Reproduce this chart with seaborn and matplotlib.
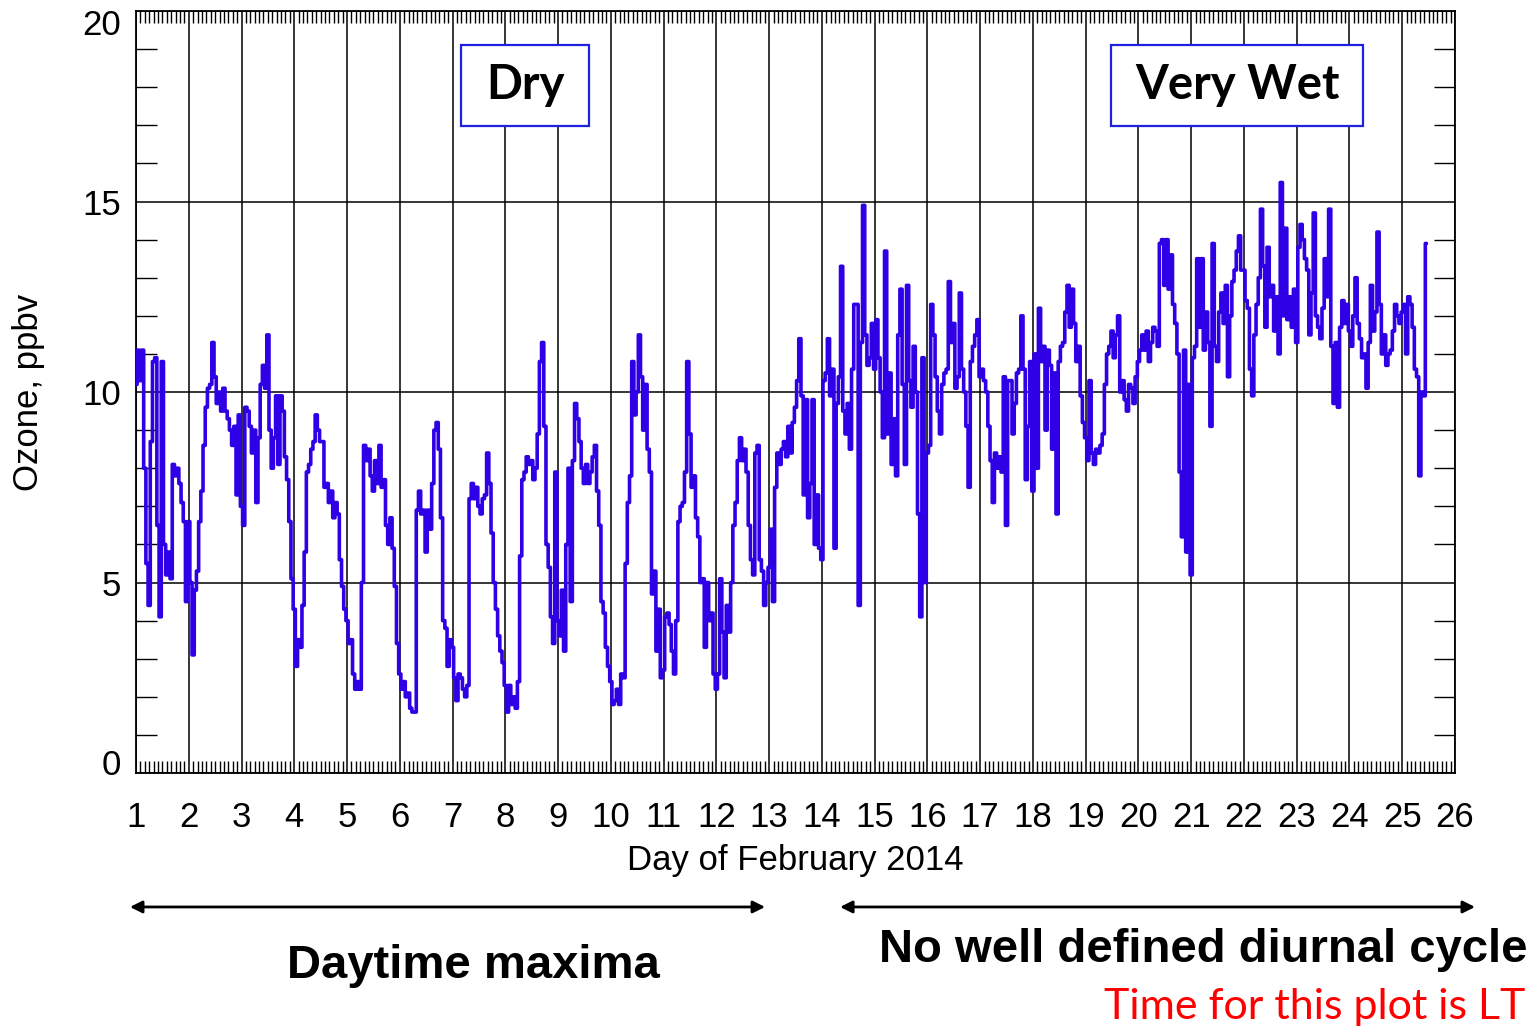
import numpy as np
import pandas as pd
import matplotlib
matplotlib.use("Agg")
import matplotlib.pyplot as plt
import matplotlib.transforms as mtransforms
from matplotlib.patches import Rectangle
from matplotlib.ticker import MultipleLocator
import seaborn as sns

# hourly ozone (ppbv), one list per day of Feb 2014, from 00 LT
feb01 = [10.2, 11.1, 10.3, 11.1, 8.0, 5.5, 4.4, 8.7, 10.8, 10.9, 6.5, 4.1, 10.8, 6.0, 5.2, 5.8, 5.1, 8.1, 7.8, 8.0, 7.6, 7.1, 6.6, 4.5]
feb02 = [6.6, 5.0, 3.1, 4.8, 5.3, 6.6, 7.4, 8.6, 9.6, 10.1, 10.2, 11.3, 10.4, 9.7, 10.0, 9.5, 10.1, 9.5, 9.3, 9.0, 8.6, 9.1, 7.3, 9.4]
feb03 = [7.0, 6.5, 9.6, 9.5, 9.1, 8.4, 9.0, 7.1, 8.8, 10.2, 10.7, 10.1, 11.5, 9.0, 8.0, 8.8, 9.9, 8.1, 9.9, 9.5, 8.3, 7.7, 6.6, 5.1]
feb04 = [4.3, 2.8, 3.5, 3.3, 4.4, 5.8, 7.9, 8.1, 8.5, 8.7, 9.4, 9.0, 8.7, 8.7, 7.5, 7.6, 7.1, 7.4, 6.7, 7.1, 6.8, 5.6, 4.9, 4.3]
feb05 = [4.0, 3.4, 3.5, 2.6, 2.2, 2.4, 2.2, 5.0, 8.6, 8.2, 8.5, 7.8, 7.4, 8.2, 7.6, 8.6, 7.5, 7.7, 6.5, 6.0, 6.7, 5.9, 4.9, 3.4]
feb06 = [2.6, 2.2, 2.4, 2.0, 2.1, 1.7, 1.6, 1.6, 6.9, 7.4, 6.8, 6.9, 5.8, 6.9, 6.4, 7.6, 9.0, 9.2, 8.5, 6.7, 4.0, 3.8, 2.8, 3.5]
feb07 = [3.3, 2.5, 1.9, 2.6, 2.5, 2.2, 2.0, 2.3, 7.2, 7.6, 7.2, 7.5, 7.0, 6.8, 7.2, 7.3, 8.4, 7.6, 6.3, 5.0, 4.3, 3.6, 3.2, 2.9]
feb08 = [2.3, 1.6, 2.3, 1.8, 2.0, 1.7, 2.4, 5.7, 7.7, 7.9, 8.3, 8.1, 8.2, 7.7, 8.0, 8.9, 10.8, 11.3, 9.1, 6.0, 5.4, 4.1, 3.4, 7.9]
feb09 = [4.0, 3.6, 4.8, 3.2, 6.0, 8.0, 4.5, 8.2, 9.7, 9.3, 8.7, 8.0, 7.6, 8.1, 7.6, 7.9, 8.3, 8.6, 7.4, 6.5, 4.5, 4.2, 3.3, 2.8]
feb10 = [2.4, 1.8, 1.9, 2.2, 1.8, 2.6, 2.5, 5.5, 7.1, 7.8, 10.8, 9.4, 10.0, 11.5, 10.4, 9.0, 10.2, 8.5, 7.9, 4.7, 5.3, 3.2, 4.3, 2.5]
feb11 = [2.7, 4.1, 4.2, 3.9, 3.2, 2.6, 4.0, 6.6, 7.0, 7.1, 7.9, 10.8, 8.9, 7.5, 7.8, 6.7, 6.2, 5.0, 5.1, 3.3, 5.0, 4.0, 4.2, 2.6]
feb12 = [2.2, 2.6, 5.1, 3.7, 2.5, 4.4, 3.7, 5.0, 6.5, 7.1, 8.2, 8.8, 8.2, 8.5, 7.9, 6.5, 5.6, 5.2, 8.4, 8.6, 5.6, 5.3, 4.4, 5.0]
feb13 = [5.4, 6.4, 4.5, 7.5, 8.4, 8.1, 8.5, 8.7, 8.3, 9.1, 8.4, 9.2, 9.6, 10.3, 11.4, 9.9, 7.3, 9.8, 6.7, 7.6, 9.8, 6.0, 7.3, 5.9]
feb14 = [5.6, 10.3, 10.5, 11.4, 9.9, 10.6, 5.9, 9.7, 10.4, 13.3, 9.5, 8.9, 9.7, 8.5, 10.6, 12.3, 12.3, 4.4, 11.3, 14.9, 11.5, 10.7, 10.9, 11.8]
feb15 = [10.6, 11.9, 10.9, 10.0, 8.8, 13.7, 8.9, 10.5, 8.1, 9.3, 7.8, 11.5, 12.7, 10.2, 8.1, 12.8, 10.3, 9.6, 11.2, 10.0, 6.8, 4.1, 10.9, 5.0]
feb16 = [8.4, 8.6, 12.3, 11.5, 10.4, 9.5, 8.9, 10.2, 10.5, 10.6, 12.9, 11.3, 11.8, 10.1, 10.4, 12.6, 10.6, 10.0, 9.1, 7.5, 10.8, 11.2, 11.5, 11.9]
feb17 = [10.4, 10.6, 10.3, 10.0, 9.1, 8.2, 7.1, 8.4, 8.0, 8.3, 7.9, 10.4, 6.5, 10.3, 10.3, 8.9, 9.7, 10.5, 10.6, 12.0, 10.6, 7.7, 9.1, 10.8]
feb18 = [7.4, 11.0, 8.0, 12.2, 10.8, 11.2, 9.0, 11.1, 10.7, 8.5, 10.5, 6.8, 10.8, 11.2, 11.3, 12.1, 12.8, 11.7, 12.7, 11.8, 10.8, 11.2, 9.9, 9.2]
feb19 = [8.8, 8.2, 10.3, 8.4, 8.1, 8.5, 8.4, 8.6, 8.9, 10.2, 11.0, 11.2, 11.6, 10.9, 11.5, 12.0, 10.0, 10.3, 9.8, 9.5, 10.2, 10.1, 9.7, 10.4]
feb20 = [10.8, 11.1, 11.5, 11.1, 11.6, 10.8, 11.3, 11.7, 11.6, 11.2, 13.9, 14.0, 12.8, 14.0, 12.7, 13.6, 12.3, 11.8, 11.0, 7.9, 6.2, 11.1, 5.8, 10.2]
feb21 = [5.2, 10.9, 11.2, 13.5, 11.7, 13.5, 11.1, 12.1, 11.3, 9.1, 13.9, 11.2, 10.8, 12.1, 12.6, 11.8, 12.8, 10.4, 12.0, 12.9, 13.2, 13.7, 14.1, 13.2]
feb22 = [13.2, 12.4, 12.2, 10.6, 9.9, 11.5, 12.3, 13.0, 14.8, 13.3, 11.7, 13.8, 12.5, 12.8, 11.6, 12.5, 11.0, 15.5, 12.0, 14.3, 11.9, 12.5, 11.7, 12.7]
feb23 = [11.3, 13.8, 14.4, 14.0, 13.5, 13.2, 11.5, 12.6, 14.7, 12.0, 11.7, 11.4, 12.2, 13.5, 12.5, 14.8, 11.2, 9.7, 11.3, 9.6, 11.7, 12.4, 11.8, 12.3]
feb24 = [11.6, 11.2, 12.0, 13.0, 11.8, 11.4, 10.9, 11.0, 10.1, 11.3, 12.8, 11.6, 12.1, 14.2, 12.3, 11.0, 11.5, 10.7, 11.0, 11.1, 11.6, 12.3, 12.0, 11.8]
feb25 = [12.1, 12.3, 11.0, 12.5, 12.3, 11.7, 10.6, 10.4, 7.8, 10.0, 9.9, 13.9]

days = [feb01, feb02, feb03, feb04, feb05, feb06, feb07, feb08, feb09, feb10,
        feb11, feb12, feb13, feb14, feb15, feb16, feb17, feb18, feb19, feb20,
        feb21, feb22, feb23, feb24, feb25]

x_ticks = list(range(1, 27))
y_ticks = [0, 5, 10, 15, 20]

t = []
o3 = []
for i, vals in enumerate(days):
    for h, v in enumerate(vals):
        t.append(1 + i + h / 24.)
        o3.append(v)
df = pd.DataFrame({"day": t, "ozone": o3})

sns.set_style("white")
plt.rcParams['font.family'] = ['Liberation Sans', 'DejaVu Sans']
plt.rcParams['text.color'] = 'black'
plt.rcParams['axes.labelcolor'] = 'black'
plt.rcParams['xtick.color'] = 'black'
plt.rcParams['ytick.color'] = 'black'

fig = plt.figure(figsize=(15.4, 10.31), dpi=100)
ax = fig.add_axes([0.0883, 0.2502, 0.8565, 0.7391])

sns.lineplot(data=df, x="day", y="ozone", color="#2f00e6", lw=2.6,
             estimator=None, sort=False, ax=ax, zorder=3, drawstyle='steps-mid')

ax.set_xlim(1, 26)
ax.set_ylim(0, 20)
ax.set_xticks(x_ticks)
ax.set_yticks(y_ticks)
ax.xaxis.set_minor_locator(MultipleLocator(1 / 12.))
ax.yaxis.set_minor_locator(MultipleLocator(1))
ax.grid(True, which='major', color='black', lw=1.1)
ax.set_axisbelow(True)
for s in ax.spines.values():
    s.set_color('black')
    s.set_linewidth(1.3)

ax.tick_params(which='major', length=0, labelsize=25, colors='black')
ax.tick_params(axis='x', which='major', pad=20)
ax.tick_params(axis='y', which='major', pad=11)
ax.tick_params(which='minor', direction='in', top=True, right=True, bottom=True, left=True,
               width=1.0, color='black')
ax.tick_params(axis='x', which='minor', length=8.5)
ax.tick_params(axis='y', which='minor', length=15)

ax.set_xlabel("Day of February 2014", fontsize=25, labelpad=7)
ax.set_ylabel("Ozone, ppbv", fontsize=25)
ax.yaxis.set_label_coords(-0.069, 0.5)

# nudge the end labels inward like the original
yt = ax.yaxis.get_major_ticks()
yt[0].label1.set_transform(yt[0].label1.get_transform() +
                           mtransforms.ScaledTranslation(0, 0.11, fig.dpi_scale_trans))
yt[-1].label1.set_transform(yt[-1].label1.get_transform() +
                            mtransforms.ScaledTranslation(0, -0.11, fig.dpi_scale_trans))

# labelled boxes
box_col = '#2020e0'
for x0, w, txt in [(0.2464, 0.0970, "Dry"), (0.7392, 0.1911, "Very Wet")]:
    ax.add_patch(Rectangle((x0, 0.849), w, 0.1064, transform=ax.transAxes,
                           facecolor='white', edgecolor=box_col, lw=1.6, zorder=5))
    ax.text(x0 + w / 2, 0.9029, txt, transform=ax.transAxes, ha='center', va='center',
            fontsize=34, fontweight='bold', family=['Lato', 'DejaVu Sans'], zorder=6)

# annotations below the plot
arr = dict(arrowstyle='<|-|>', color='black', lw=2, mutation_scale=18, shrinkA=0, shrinkB=0)
ax.annotate('', xy=(0.0844, 0.1203), xytext=(0.4968, 0.1203),
            xycoords='figure fraction', textcoords='figure fraction', arrowprops=arr)
ax.annotate('', xy=(0.5455, 0.1203), xytext=(0.9578, 0.1203),
            xycoords='figure fraction', textcoords='figure fraction', arrowprops=arr)

fig.text(0.3071, 0.0630, "Daytime maxima", ha='center', va='center',
         fontsize=34, fontweight='bold')
fig.text(0.7812, 0.0785, "No well defined diurnal cycle", ha='center', va='center',
         fontsize=34, fontweight='bold')
fig.text(0.9903, 0.0233, "Time for this plot is LT", ha='right', va='center',
         fontsize=31, color='red', family=['Lato', 'DejaVu Sans'])

plt.savefig('out.png', dpi=100)
